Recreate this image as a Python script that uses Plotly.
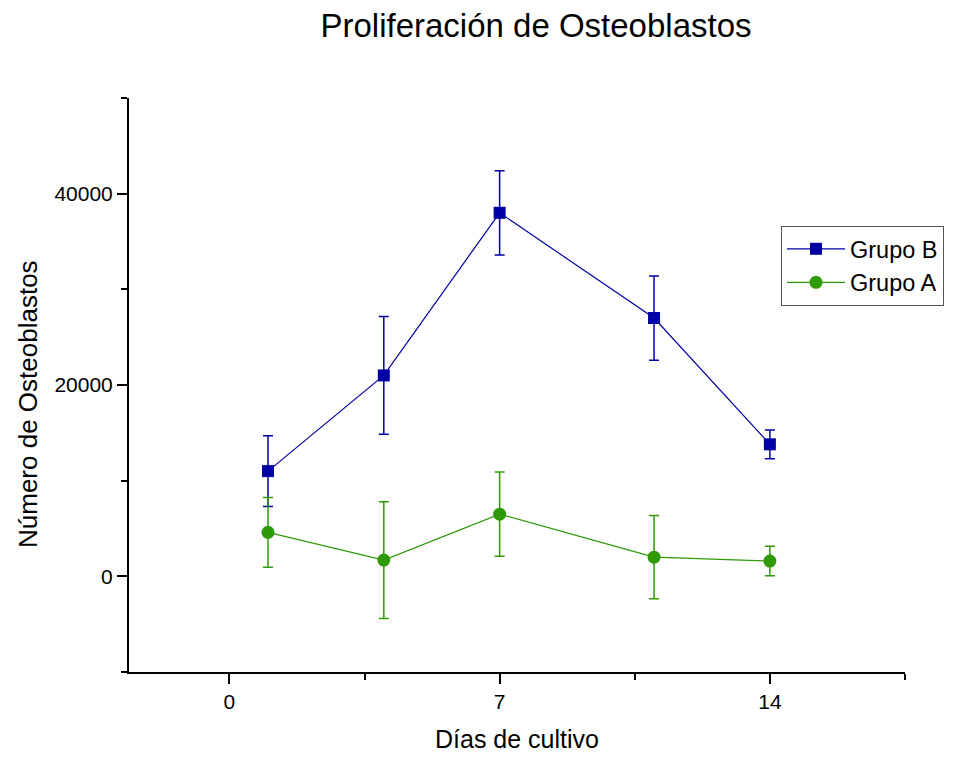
import plotly.graph_objects as go

# Culture days sampled
dias = [1, 4, 7, 11, 14]

# Osteoblast counts (mean) and error (±) for each group
grupo_b = [11000, 21000, 38000, 27000, 13800]
grupo_b_err = [3700, 6150, 4400, 4400, 1500]

grupo_a = [4600, 1700, 6500, 2000, 1600]
grupo_a_err = [3650, 6100, 4400, 4350, 1550]

x_ticks = [0, 7, 14]
y_ticks = [0, 20000, 40000]

FONT = "Liberation Sans, Arial, sans-serif"
AZUL = "#0000A6"
VERDE = "#2E9A06"

fig = go.Figure()

fig.add_trace(go.Scatter(
    x=dias, y=grupo_b, name="Grupo B", mode="lines+markers",
    line=dict(color=AZUL, width=1.2),
    marker=dict(symbol="square", size=12, color=AZUL),
    error_y=dict(type="data", array=grupo_b_err, visible=True,
                 color=AZUL, thickness=1.5, width=5),
))

fig.add_trace(go.Scatter(
    x=dias, y=grupo_a, name="Grupo A", mode="lines+markers",
    line=dict(color=VERDE, width=1.2),
    marker=dict(symbol="circle", size=13, color=VERDE),
    error_y=dict(type="data", array=grupo_a_err, visible=True,
                 color=VERDE, thickness=1.5, width=5),
))

fig.update_layout(
    width=957, height=758,
    margin=dict(l=129, r=52, t=98, b=86),
    paper_bgcolor="white", plot_bgcolor="white",
    font=dict(family=FONT, color="black"),
    title=dict(text="Proliferación de Osteoblastos",
               font=dict(size=33, family=FONT, color="black"),
               x=536 / 957, xanchor="center", y=1 - 25 / 758, yanchor="middle"),
    showlegend=True,
    legend=dict(x=(781 - 129) / 776, y=(672 - 226) / 574,
                xanchor="left", yanchor="top",
                bordercolor="#555555", borderwidth=1, bgcolor="white",
                font=dict(size=23.5, family=FONT, color="black"),
                itemwidth=58, tracegroupgap=0),
    annotations=[dict(text="Número de Osteoblastos", textangle=-90,
                      xref="paper", yref="paper",
                      x=(28 - 129) / 776, y=(672 - 404) / 574,
                      xanchor="center", yanchor="middle", showarrow=False,
                      font=dict(size=26, family=FONT, color="black"))],
)

fig.update_xaxes(
    range=[-2.6, 17.5], tickvals=x_ticks, ticktext=[str(t) for t in x_ticks],
    automargin=False,
    showgrid=False, zeroline=False, showline=True, linecolor="black", linewidth=2,
    ticks="outside", ticklen=10, tickwidth=2, tickcolor="black",
    tickfont=dict(size=21, family=FONT, color="black"),
    minor=dict(tick0=0, dtick=3.5, ticks="outside", ticklen=6, tickwidth=2,
               tickcolor="black", showgrid=False),
    title=dict(text="Días de cultivo", standoff=18,
               font=dict(size=25, family=FONT, color="black")),
)

fig.update_yaxes(
    range=[-10000, 50000], tickvals=y_ticks, ticktext=[str(t) for t in y_ticks],
    automargin=False,
    showgrid=False, zeroline=False, showline=True, linecolor="black", linewidth=2,
    ticks="outside", ticklen=10, tickwidth=2, tickcolor="black",
    tickfont=dict(size=21, family=FONT, color="black"),
    minor=dict(tick0=0, dtick=10000, ticks="outside", ticklen=6, tickwidth=2,
               tickcolor="black", showgrid=False),
)

fig.write_html("out.html")
